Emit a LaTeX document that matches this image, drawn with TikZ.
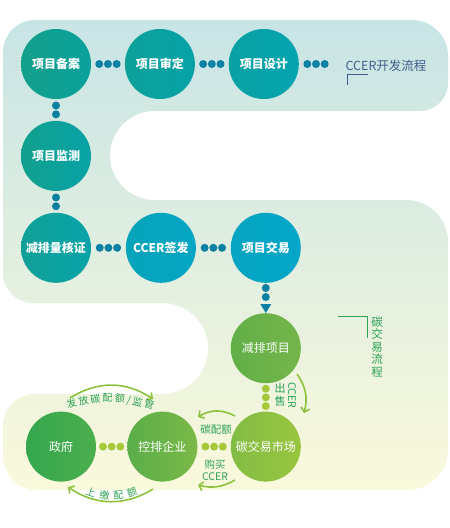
\documentclass[tikz,border=0pt]{standalone}
\usepackage{fontspec}
\setmainfont{Noto Sans CJK SC}
\usetikzlibrary{arrows.meta,positioning,calc,decorations.markings,decorations.text}
\definecolor{bandtop}{HTML}{C8E4E5}
\definecolor{bandmid}{HTML}{E1EEE3}
\definecolor{bandbot}{HTML}{FAF9DC}
\definecolor{dotblue}{HTML}{0C80A3}
\definecolor{dotgreen}{HTML}{A6C83B}
\definecolor{labelgreen}{HTML}{2EA155}
\definecolor{arrowgreen}{HTML}{8DC13F}
\definecolor{devblue}{HTML}{3F5D8C}
\definecolor{paL}{HTML}{13A08A}\definecolor{paR}{HTML}{0AA09C}
\definecolor{psL}{HTML}{0DA099}\definecolor{psR}{HTML}{06A2A8}
\definecolor{pdL}{HTML}{09A0A2}\definecolor{pdR}{HTML}{04A4B0}
\definecolor{pmL}{HTML}{11A08E}\definecolor{pmR}{HTML}{08A2A6}
\definecolor{hzL}{HTML}{10A098}\definecolor{hzR}{HTML}{08A3A8}
\definecolor{qfL}{HTML}{06A4BA}\definecolor{qfR}{HTML}{05A6C4}
\definecolor{jyL}{HTML}{05A4C2}\definecolor{jyR}{HTML}{05A6C8}
\definecolor{jpL}{HTML}{62AF48}\definecolor{jpR}{HTML}{74B54A}
\definecolor{scL}{HTML}{82BC44}\definecolor{scR}{HTML}{99C53F}
\definecolor{qyL}{HTML}{5AAE4A}\definecolor{qyR}{HTML}{7BB947}
\definecolor{zfL}{HTML}{34A74F}\definecolor{zfR}{HTML}{4CAE4D}
\newcommand\arcfont{\fontsize{10}{12}\selectfont}
\tikzset{
  stage/.style={circle,minimum size=70pt,inner sep=0pt,left color=#1L,right color=#1R,
    text=white,font=\fontsize{12}{14}\selectfont\bfseries},
  trade/.style={circle,minimum size=70pt,inner sep=0pt,left color=#1L,right color=#1R,
    text=white,font=\fontsize{12}{14}\selectfont},
  dots3/.style={decoration={markings,mark=at position 0.5 with
    {\fill[#1] (-8.7pt,0pt) circle (4pt) (0pt,0pt) circle (4pt) (8.7pt,0pt) circle (4pt);}},
    postaction={decorate}},
  dots2/.style={decoration={markings,mark=at position 0.5 with
    {\fill[#1] (-4.4pt,0pt) circle (4pt) (4.4pt,0pt) circle (4pt);}},
    postaction={decorate}},
  dropdots/.style={decoration={markings,
    mark=at position 5pt with {\fill[dotblue] (0pt,0pt) circle (4pt);},
    mark=at position 14pt with {\fill[dotblue] (0pt,0pt) circle (4pt);},
    mark=at position 22pt with {\fill[dotblue] (-1pt,-5.5pt) -- (8pt,0pt) -- (-1pt,5.5pt) -- cycle;}},
    postaction={decorate}},
  flowarrow/.style={draw=arrowgreen,line width=1.6pt,-{Straight Barb[length=4pt,width=9pt]}},
  greenlabel/.style={text=labelgreen,inner sep=0pt,align=center,font=\fontsize{10.5}{12.5}\selectfont},
  arctext/.style={decorate,decoration={text along path,text={|\arcfont|#1},
    text color=labelgreen,text align=fit to path}}
}
\begin{document}
\begin{tikzpicture}[x=1pt,y=-1pt,node distance=33.5pt]
\useasboundingbox (0,0) rectangle (450,528);
% background band
\path[top color=bandtop,middle color=bandmid,bottom color=bandbot]
  (200,20) [rounded corners=36pt] -- (448,20) [rounded corners=28pt] -- (448,111)
  [rounded corners=44.5pt] -- (110,111) -- (110,200) [rounded corners=42pt] -- (448,200)
  [rounded corners=40pt] -- (448,490) [rounded corners=34pt] -- (3,490)
  [rounded corners=32pt] -- (3,394) [rounded corners=45.5pt] -- (208,394) -- (208,303)
  [rounded corners=30pt] -- (3,303) [rounded corners=32pt] -- (3,20) -- cycle;

% CCER development flow
\node[stage=pa] (pa) at (56,64) {项目备案};
\node[stage=ps,right=of pa] (ps) {项目审定};
\node[stage=pd,right=of ps] (pd) {项目设计};
\node[stage=pm,below=21.5pt of pa] (pm) {项目监测};
\node[stage=hz,below=21.5pt of pm] (hz) {减排量核证};
\node[stage=qf,right=34.5pt of hz] (qf) {CCER签发};
\node[stage=jy,right=34.5pt of qf] (jy) {项目交易};
\coordinate (devend) at (333,64);

% carbon trading flow
\node[trade=jp,below=30pt of jy] (jp) {减排项目};
\node[trade=sc,below=28pt of jp] (sc) {碳交易市场};
\node[trade=qy,left=33pt of sc] (qy) {控排企业};
\node[trade=zf,left=31pt of qy] (zf) {政府};

\path[dots3=dotblue] (pa) -- (ps);
\path[dots3=dotblue] (ps) -- (pd);
\path[dots3=dotblue] (pd) -- (devend);
\path[dots2=dotblue] (pa) -- (pm);
\path[dots2=dotblue] (pm) -- (hz);
\path[dots3=dotblue] (hz) -- (qf);
\path[dots3=dotblue] (qf) -- (jy);
\path[dropdots] (jy) -- (jp);
\path[dots3=dotgreen] (jp) -- (sc);
\path[dots3=dotgreen] (zf) -- (qy);
\path[dots3=dotgreen] (qy) -- (sc);

% titles
\node[text=devblue,inner sep=0pt,font=\fontsize{12.5}{14}\selectfont] (dev) at (386,66) {CCER开发流程};
\coordinate (devcorner) at (347,74);
\draw[devblue,line width=0.9pt] ($(devcorner)+(21,0)$) -- (devcorner) -- ++(0,11);
\node[greenlabel,font=\fontsize{11.5}{12.5}\selectfont] (trd) at (377,347) {碳\\交\\易\\流\\程};
\coordinate (trdcorner) at (367,316);
\draw[labelgreen,line width=1pt] ($(trdcorner)+(-29,0)$) -- (trdcorner) -- ++(0,22);

% flow labels
\node[greenlabel,font=\fontsize{11}{13.5}\selectfont] (sell) at (280,395) {出\\售};
\node[greenlabel,rotate=-90] (sellcc) at (292,395) {CCER};
\node[greenlabel] (quota) at (216,430) {碳配额};
\node[greenlabel] (buy) at (215,470) {购买\\CCER};

\coordinate (sellA) at (297,374);
\coordinate (sellB) at (304,413);
\draw[flowarrow] (sellA) to[bend left=25] (sellB);
\coordinate (quotaA) at (235,416);
\coordinate (quotaB) at (198,417);
\draw[flowarrow] (quotaA) to[bend right=30] (quotaB);
\coordinate (buyA) at (235,480);
\coordinate (buyB) at (198,485);
\draw[flowarrow] (buyA) to[bend left=22] (buyB);
\coordinate (giveA) at (70,398);
\coordinate (giveB) at (153,399);
\draw[flowarrow] (giveA) to[bend left=33] (giveB);
\coordinate (payA) at (153,489);
\coordinate (payB) at (68,487);
\draw[flowarrow] (payA) to[bend left=33] (payB);

\path[arctext={发放碳配额/监管}] (68,409) to[bend left=18] (153,410);
\path[arctext={上缴配额}] (85,494) to[bend right=20] (138,494);
\end{tikzpicture}
\end{document}
